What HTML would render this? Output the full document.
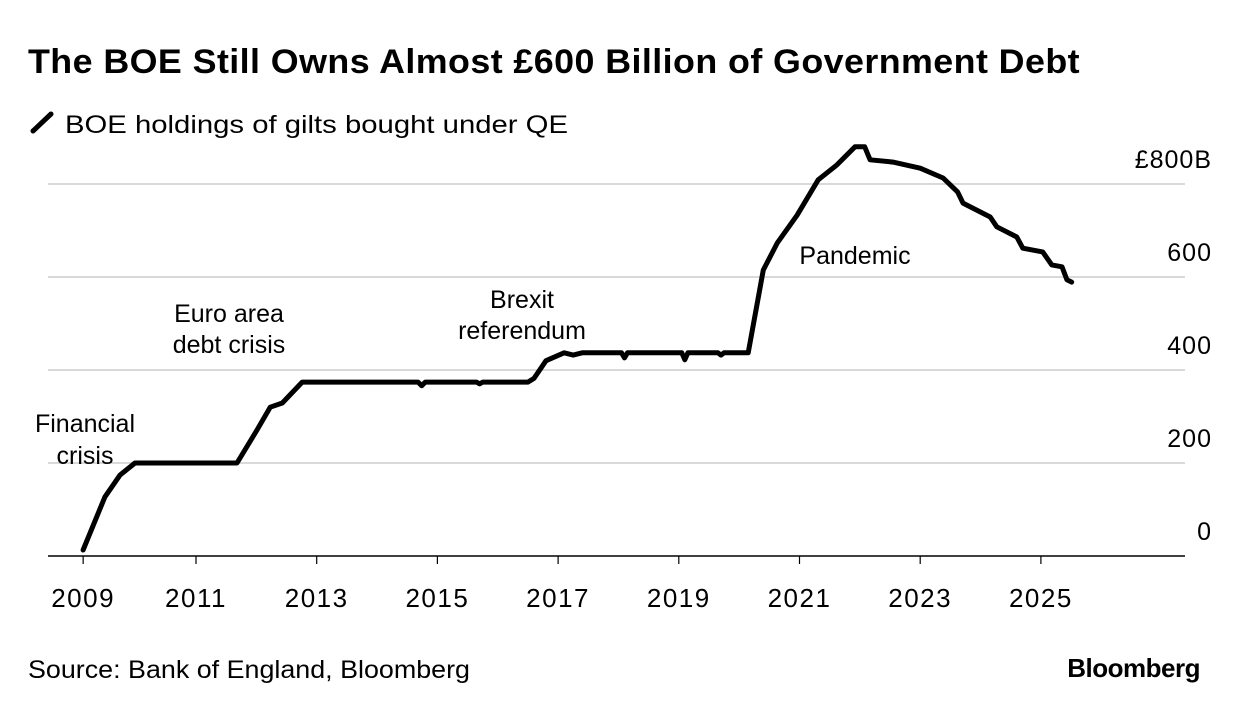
<!DOCTYPE html>
<html><head><meta charset="utf-8"><style>
body{margin:0;background:#fff;width:1240px;height:712px;overflow:hidden;font-family:"Liberation Sans",sans-serif;}
svg text{font-family:"Liberation Sans",sans-serif;fill:#000;}
</style></head><body>
<svg width="1240" height="712">
<text x="28" y="73" font-size="34" font-weight="bold" letter-spacing="0.4" textLength="1052" lengthAdjust="spacingAndGlyphs">The BOE Still Owns Almost £600 Billion of Government Debt</text>
<line x1="33" y1="131" x2="51" y2="114" stroke="#000" stroke-width="5" stroke-linecap="round"/>
<text x="65" y="133" font-size="25" textLength="503" lengthAdjust="spacingAndGlyphs">BOE holdings of gilts bought under QE</text>
<g id="grid"></g><g id="xaxis"></g>
<g font-size="25">
<text x="85" y="432" text-anchor="middle">Financial</text>
<text x="85" y="464" text-anchor="middle">crisis</text>
<text x="229" y="322" text-anchor="middle">Euro area</text>
<text x="229" y="353" text-anchor="middle">debt crisis</text>
<text x="522" y="308" text-anchor="middle">Brexit</text>
<text x="522" y="339" text-anchor="middle">referendum</text>
<text x="855" y="264" text-anchor="middle">Pandemic</text>
</g>
<path id="line" fill="none" stroke="#000" stroke-width="5" stroke-linejoin="round" stroke-linecap="round"/>
<text x="28" y="678" font-size="25" textLength="442" lengthAdjust="spacingAndGlyphs">Source: Bank of England, Bloomberg</text>
<text x="1200" y="677" font-size="26" font-weight="bold" text-anchor="end" letter-spacing="-0.5">Bloomberg</text>
</svg>
<script>
const dates=[2009.13,2009.49,2009.74,2009.99,2011.68,2012.01,2012.23,2012.43,2012.76,2014.68,2014.74,2014.8,2015.65,2015.7,2015.75,2016.5,2016.6,2016.8,2017.1,2017.25,2017.4,2018.05,2018.1,2018.15,2019.05,2019.1,2019.15,2019.65,2019.7,2019.75,2020.15,2020.4,2020.63,2020.96,2021.31,2021.62,2021.92,2022.08,2022.17,2022.55,2023.0,2023.38,2023.62,2023.71,2024.16,2024.27,2024.6,2024.7,2025.03,2025.18,2025.35,2025.43,2025.51];
const values=[13,127,174,200,200,271,320,329,374,374,366,374,374,370,374,374,382,420,437,432,437,437,426,437,437,422,437,437,432,437,437,615,673,733,809,841,880,880,852,847,834,813,783,759,729,708,686,662,654,626,622,594,589];
const yTicks=[0,200,400,600,800];
const yTickLabels=["0","200","400","600","£800B"];
const xTicks=[2009.13,2011,2013,2015,2017,2019,2021,2023,2025];
const xTickLabels=["2009","2011","2013","2015","2017","2019","2021","2023","2025"];
const X=t=>196+(t-2011)*60.35;
const Y=v=>556-v*0.465;
const NS="http://www.w3.org/2000/svg";
const grid=document.getElementById('grid'),xa=document.getElementById('xaxis');
yTicks.forEach((v,i)=>{
 if(v>0){const l=document.createElementNS(NS,'line');
 l.setAttribute('x1',48);l.setAttribute('x2',1185);l.setAttribute('y1',Y(v));l.setAttribute('y2',Y(v));
 l.setAttribute('stroke','#d9d9d9');l.setAttribute('stroke-width',2);
 
 
 grid.appendChild(l);}
 const t=document.createElementNS(NS,'text');
 t.setAttribute('x',1212);t.setAttribute('y',Y(v)-16);t.setAttribute('text-anchor','end');t.setAttribute('font-size','25');t.setAttribute('letter-spacing','1');
 t.textContent=yTickLabels[i];
 
 
 grid.appendChild(t);
});
const ax=document.createElementNS(NS,'line');
ax.setAttribute('x1',48);ax.setAttribute('x2',1185);ax.setAttribute('y1',556);ax.setAttribute('y2',556);ax.setAttribute('stroke','#000');ax.setAttribute('stroke-width',1.5);


xa.appendChild(ax);
xTicks.forEach((d,i)=>{
 const l=document.createElementNS(NS,'line');
 l.setAttribute('x1',X(d));l.setAttribute('x2',X(d));l.setAttribute('y1',556);l.setAttribute('y2',564);l.setAttribute('stroke','#000');l.setAttribute('stroke-width',1.2);
 
 
 xa.appendChild(l);
 const t=document.createElementNS(NS,'text');
 t.setAttribute('x',X(d));t.setAttribute('y',607);t.setAttribute('text-anchor','middle');t.setAttribute('font-size','26');t.setAttribute('letter-spacing','1.5');
 t.textContent=xTickLabels[i];
 
 
 xa.appendChild(t);
});
document.getElementById('line').setAttribute('d',dates.map((d,i)=>(i?'L':'M')+X(d).toFixed(1)+','+Y(values[i]).toFixed(1)).join(''));
</script>
</body></html>
